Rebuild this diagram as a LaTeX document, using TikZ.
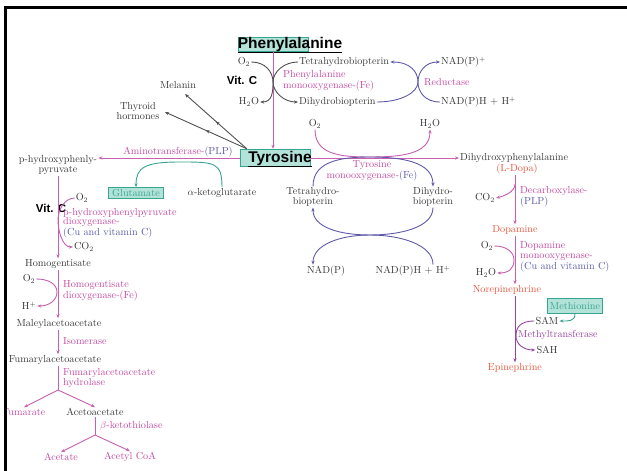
\documentclass[tikz,border=0pt]{standalone}
\usepackage{fontspec}
\newfontfamily\arialfont{Liberation Sans}
\usetikzlibrary{calc,arrows.meta,decorations.markings}
\definecolor{txtgray}{RGB}{55,55,55}
\definecolor{enzpink}{RGB}{196,72,160}
\definecolor{linepink}{RGB}{200,95,175}
\definecolor{enzblue}{RGB}{90,90,165}
\definecolor{arcblue}{RGB}{95,90,170}
\definecolor{orng}{RGB}{232,85,60}
\definecolor{tealc}{RGB}{55,165,145}
\definecolor{tealfill}{RGB}{178,226,216}
\definecolor{arrgray}{RGB}{80,80,80}
\definecolor{purp}{RGB}{150,70,160}

\begin{document}
\begin{tikzpicture}[x=1pt,y=-1pt,>={Stealth[length=4pt,width=3.2pt]},
    every node/.style={font=\fontsize{10.2}{9.7}\selectfont,text=txtgray,inner sep=1pt},
    enz/.style={text=enzpink,align=left,anchor=west},
    ttl/.style={font=\arialfont\bfseries\fontsize{15.5}{16}\selectfont,text=black,inner sep=0pt},
    ttlbox/.style={draw=tealc,fill=tealfill,line width=0.5pt,inner sep=0pt},
    tealbox/.style={draw=tealc,fill=tealfill,text=tealc,line width=0.6pt,inner sep=1pt},
    vitc/.style={font=\arialfont\bfseries\fontsize{11.5}{12}\selectfont,text=black},
    pinkarr/.style={draw=linepink,line width=0.9pt,->},
    pinkline/.style={draw=linepink,line width=0.9pt},
    grayarr/.style={draw=arrgray,line width=0.9pt,->},
    bluearr/.style={draw=arcblue,line width=0.9pt,->},
    pinkarc/.style={draw=linepink,line width=0.9pt,->},
    tealarr/.style={draw=tealc,line width=0.9pt,->},
    purparr/.style={draw=purp,line width=0.9pt,->},
    midarr/.style={postaction={decorate},decoration={markings,
      mark=at position 0.5 with {\arrow{Stealth[length=4pt,width=3.2pt]}}}}]
  \useasboundingbox (0,0) rectangle (627,471);

  % Phenylalanine
  \node[ttlbox,minimum width=70pt,minimum height=14pt] (phebox) at (273,44) {};
  \node[ttl] (phe) at (290,45) {\underline{Phenylalanine}};

  % Tyrosine
  \node[ttlbox,minimum width=70pt,minimum height=17pt] (tyrbox) at (275,157.5) {};
  \node[ttl] (tyr) at (280,159) {\underline{Tyrosine}};

  % phenylalanine monooxygenase
  \node (o2a) at (244,62) {O$_2$};
  \node (h2oa) at (249,102) {H$_2$O};
  \node[anchor=west] (thb) at (298,62) {Tetrahydrobiopterin};
  \node[anchor=west] (dhb) at (298,102) {Dihydrobiopterin};
  \node[enz] (phmo) at (282,81) {Phenylalanine\\monooxygenase-(Fe)};
  \node[vitc] (vitc1) at (242,80) {Vit. C};
  \coordinate (pmid) at (273,82);

  % reductase
  \node[anchor=west] (nadp1) at (440,62) {NAD(P)$^+$};
  \node[anchor=west] (nadph1) at (440,102) {NAD(P)H + H$^+$};
  \node[enz] (red) at (423,82) {Reductase};
  \coordinate (redmid) at (418,82);

  % melanin, thyroid hormones
  \node (melanin) at (178,85) {Melanin};
  \node[align=center] (thyroid) at (138,111) {Thyroid\\hormones};
  \coordinate (melend) at (185,94);
  \coordinate (thyend) at (165,112);

  % tyrosine monooxygenase
  \node[anchor=west] (dopa) at (459,158) {Dihydroxyphenylalanine};
  \node[text=orng] (ldopa) at (517,169) {(L-Dopa)};
  \node (o2b) at (315,124) {O$_2$};
  \node (h2ob) at (430,124) {H$_2$O};
  \node[text=enzpink,align=center] (tymo) at (372,171) {Tyrosine\\monooxygenase-\textcolor{enzblue}{(Fe)}};
  \node[align=center] (thb2) at (313,197) {Tetrahydro-\\biopterin};
  \node[align=center] (dhb2) at (433,197) {Dihydro-\\biopterin};
  \node (nadp2) at (326,271) {NAD(P)};
  \node (nadph2) at (413,271) {NAD(P)H + H$^+$};
  \coordinate (tymid) at (370,157);
  \coordinate (tylow) at (370,235);

  % aminotransferase
  \node[align=center] (hpp) at (58,165) {p-hydroxyphenly-\\pyruvate};
  \node[text=enzpink] (amt) at (178,152) {Aminotransferase-\textcolor{enzblue}{(PLP)}};
  \node[tealbox,minimum width=55pt,minimum height=11pt] (glu) at (136,193) {Glutamate};
  \node (aketo) at (222,193) {$\alpha$-ketoglutarate};
  \coordinate (glutop) at (180,162);

  % degradation
  \node (o2c) at (82,198) {O$_2$};
  \node (co2c) at (84,247) {CO$_2$};
  \node[vitc] (vitc2) at (51,208) {Vit. C};
  \node[enz] (hppd) at (62,223) {p-hydroxyphenylpyruvate\\dioxygenase-\\\textcolor{enzblue}{(Cu and vitamin C)}};
  \coordinate (hpmid) at (58,220);
  \node (homog) at (58,264) {Homogentisate};
  \node (o2d) at (29,279) {O$_2$};
  \node (hplus) at (29,306) {H$^+$};
  \node[enz] (hgd) at (62,291) {Homogentisate\\dioxygenase-(Fe)};
  \coordinate (homid) at (57,292);
  \node (maleyl) at (59,324) {Maleylacetoacetate};
  \node[enz] (isom) at (62,341) {Isomerase};
  \node (fumac) at (55,360) {Fumarylacetoacetate};
  \node[enz] (fah) at (62,378) {Fumarylacetoacetate\\hydrolase};
  \coordinate (br1) at (58,390);
  \node[text=enzpink] (fum) at (24,412) {Fumarate};
  \node (acac) at (95,412) {Acetoacetate};
  \node[enz] (bkt) at (99,426) {$\beta$-ketothiolase};
  \coordinate (br2) at (95,435);
  \node[text=enzpink] (acet) at (61,457) {Acetate};
  \node[text=enzpink] (acoa) at (130,457) {Acetyl CoA};

  % catecholamines
  \node[text=orng] (dopamine) at (515,230) {Dopamine};
  \node (co2d) at (485,198) {CO$_2$};
  \node[enz] (dcx) at (519,197) {Decarboxylase-\\\textcolor{enzblue}{(PLP)}};
  \coordinate (dcstart) at (515,184);
  \node (o2e) at (487,246) {O$_2$};
  \node (h2oe) at (486,273) {H$_2$O};
  \node[enz] (dbh) at (519,257) {Dopamine\\monooxygenase-\\\textcolor{enzblue}{(Cu and vitamin C)}};
  \coordinate (dbmid) at (514,260);
  \node[text=orng] (norepi) at (507,290) {Norepinephrine};
  \node[tealbox,minimum width=55pt,minimum height=15pt] (meth) at (575,306) {Methionine};
  \node (sam) at (547,321) {SAM};
  \node (sah) at (547,350) {SAH};
  \node[enz,text=purp] (mtf) at (517,335) {Methyltransferase};
  \coordinate (samid) at (516,336);
  \node[text=orng] (epi) at (515,368) {Epinephrine};

  % main arrows
  \draw[pinkarr] (phebox.south) -- (phebox.south |- tyrbox.north);
  \draw[pinkarr] (tyrbox.east |- dopa.west) -- (dopa.west);
  \draw[pinkarr] (tyrbox.west |- dopa.west) -- (hpp.east |- dopa.west);
  \draw[grayarr,midarr] ($(tyrbox.north west)+(7,0)$) -- (melend);
  \draw[grayarr,midarr] ($(tyrbox.north west)+(7,0)$) -- (thyend);

  % cofactor arcs
  \draw[grayarr] (o2a.east) .. controls +(14,0) and +(0,-10) .. (pmid)
    .. controls +(0,10) and +(12,0) .. (h2oa.east);
  \draw[grayarr] (thb.west) .. controls +(-14,0) and +(0,-10) .. (pmid)
    .. controls +(0,10) and +(-14,0) .. (dhb.west);
  \draw[bluearr] (dhb.east) .. controls +(25,0) and +(0,10) .. (redmid)
    .. controls +(0,-10) and +(20,0) .. (thb.east);
  \draw[bluearr] (nadph1.west) .. controls +(-15,0) and +(0,10) .. (redmid)
    .. controls +(0,-10) and +(-15,0) .. (nadp1.west);
  \draw[pinkarc] (o2b.south) .. controls +(0,25) and +(-30,0) .. (tymid)
    .. controls +(30,0) and +(0,25) .. (h2ob.south);
  \draw[bluearr] (thb2.north) .. controls +(0,-25) and +(-30,0) .. (tymid)
    .. controls +(30,0) and +(0,-25) .. (dhb2.north);
  \draw[bluearr] (dhb2.south) .. controls +(0,20) and +(30,0) .. (tylow)
    .. controls +(-30,0) and +(0,20) .. (thb2.south);
  \draw[bluearr] (nadph2.north -| dhb2.south) .. controls +(0,-20) and +(30,0) .. (tylow)
    .. controls +(-30,0) and +(0,-20) .. (nadp2.north -| thb2.south);
  \draw[tealarr] (aketo.north) .. controls +(0,-25) and +(35,0) .. (glutop)
    .. controls +(-35,0) and +(0,-20) .. (glu.north);

  % degradation arrows
  \draw[pinkarr] (hpp.south) -- (hpp.south |- homog.north);
  \draw[pinkarc] (o2c.west) .. controls +(-10,0) and +(0,-10) .. (hpmid)
    .. controls +(0,12) and +(-10,0) .. (co2c.west);
  \draw[pinkarr] (homog.south) -- (homog.south |- maleyl.north);
  \draw[pinkarc] (o2d.east) .. controls +(12,0) and +(0,-8) .. (homid)
    .. controls +(0,8) and +(12,0) .. (hplus.east);
  \draw[pinkarr] (homog.south |- maleyl.south) -- (homog.south |- fumac.north);
  \draw[pinkline] (homog.south |- fumac.south) -- (br1);
  \draw[pinkarr] (br1) -- (fum.north);
  \draw[pinkarr] (br1) -- (acac.north);
  \draw[pinkline] (acac.south) -- (br2);
  \draw[pinkarr] (br2) -- (acet.north);
  \draw[pinkarr] (br2) -- (acoa.north);

  % catecholamine arrows
  \draw[pinkarr] (dopamine.north |- ldopa.south) -- (dopamine.north);
  \draw[pinkarc] (dcstart) .. controls +(0,8) and +(8,-2) .. (co2d.east);
  \draw[pinkarr] (dopamine.south) -- (dopamine.south |- norepi.north);
  \draw[pinkarc] (o2e.east) .. controls +(12,0) and +(0,-8) .. (dbmid)
    .. controls +(0,8) and +(12,0) .. (h2oe.east);
  \draw[purparr] (dopamine.south |- norepi.south) -- (epi.north);
  \draw[tealarr] (meth.south) .. controls +(0,8) and +(8,0) .. (sam.east);
  \draw[purparr] (sam.west) .. controls +(-15,0) and +(0,-8) .. (samid)
    .. controls +(0,8) and +(-12,0) .. (sah.west);

  % frame
  \fill[white] (0,0) rectangle (4,471);
  \draw[line width=3.2pt] (5.5,471) -- (5.5,7.5) -- (627,7.5);
\end{tikzpicture}
\end{document}
